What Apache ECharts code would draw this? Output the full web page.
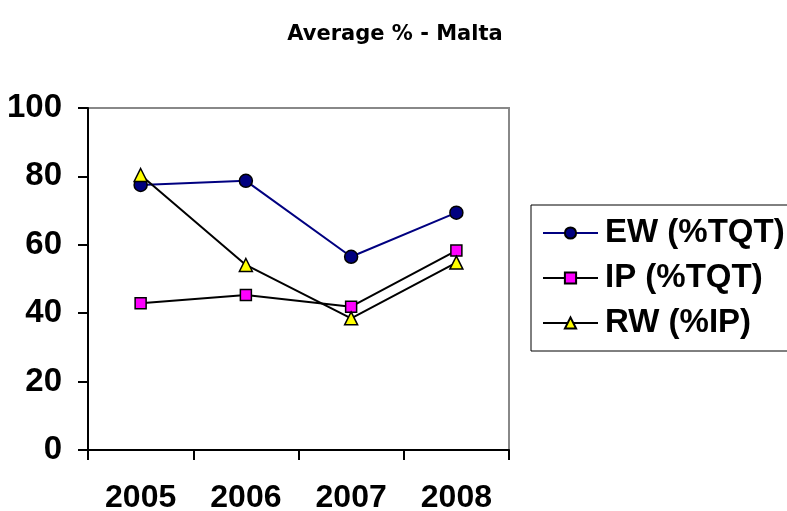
<!DOCTYPE html>
<html>
<head>
<meta charset="utf-8">
<script src="https://cdn.jsdelivr.net/npm/echarts@6/dist/echarts.min.js"></script>
<style>
  html, body { margin: 0; padding: 0; background: #fff; }
  #main { width: 787px; height: 511px; }
</style>
</head>
<body>
<div id="main"></div>
<script>
// 数据
var years = ['2005', '2006', '2007', '2008'];
var ewData = [77.5, 78.7, 56.5, 69.4];   // EW (%TQT)
var ipData = [42.9, 45.3, 41.9, 58.3];   // IP (%TQT)
var rwData = [80.4, 54.1, 38.5, 54.8];   // RW (%IP)
var yTicks = [0, 20, 40, 60, 80, 100];

var font = '"Liberation Sans", Arial, sans-serif';

var chart = echarts.init(document.getElementById('main'));

var option = {
    animation: false,
    backgroundColor: '#fff',
    title: {
        text: 'Average % - Malta',
        left: 390,
        top: 19,
        textAlign: 'center',
        textStyle: { fontFamily: '"DejaVu Sans", sans-serif', fontWeight: 'bold', fontSize: 21, color: '#000' }
    },
    legend: {
        orient: 'vertical',
        left: 531,
        top: 205,
        padding: [11, 30, 11, 11],
        borderColor: '#000',
        borderWidth: 1,
        itemWidth: 55,
        itemHeight: 14,
        itemGap: 11,
        textStyle: { fontFamily: font, fontWeight: 'bold', fontSize: 33, color: '#000', lineHeight: 34, padding: [0, 0, 0, 2] },
        data: ['EW (%TQT)', 'IP (%TQT)', 'RW (%IP)']
    },
    grid: {
        left: 88,
        right: 278,
        top: 108,
        bottom: 61,
        outerBoundsMode: 'none',
        show: true,
        borderColor: '#888',
        borderWidth: 2
    },
    xAxis: {
        type: 'category',
        data: years,
        boundaryGap: true,
        axisLine: { lineStyle: { color: '#000', width: 2 } },
        axisTick: { show: true, length: 10, lineStyle: { color: '#000', width: 2 } },
        axisLabel: { margin: 32, fontFamily: font, fontWeight: 'bold', fontSize: 32, color: '#000' }
    },
    yAxis: {
        type: 'value',
        min: yTicks[0],
        max: yTicks[yTicks.length - 1],
        interval: 20,
        axisLine: { show: true, lineStyle: { color: '#000', width: 2 } },
        axisTick: { show: true, length: 10, lineStyle: { color: '#000', width: 2 } },
        splitLine: { show: false },
        axisLabel: { margin: 26, fontFamily: font, fontWeight: 'bold', fontSize: 33, color: '#000' }
    },
    series: [
        {
            name: 'EW (%TQT)',
            type: 'line',
            data: ewData,
            symbol: 'circle',
            symbolSize: 13,
            lineStyle: { color: '#000080', width: 2 },
            itemStyle: { color: '#000080', borderColor: '#000', borderWidth: 1.5 }
        },
        {
            name: 'IP (%TQT)',
            type: 'line',
            data: ipData,
            symbol: 'rect',
            symbolSize: 11,
            lineStyle: { color: '#000', width: 2 },
            itemStyle: { color: '#ff00ff', borderColor: '#000', borderWidth: 1.5 }
        },
        {
            name: 'RW (%IP)',
            type: 'line',
            data: rwData,
            symbol: 'triangle',
            symbolSize: 13,
            lineStyle: { color: '#000', width: 2 },
            itemStyle: { color: '#ffff00', borderColor: '#000', borderWidth: 1.5 }
        }
    ]
};

chart.setOption(option);
</script>
</body>
</html>
